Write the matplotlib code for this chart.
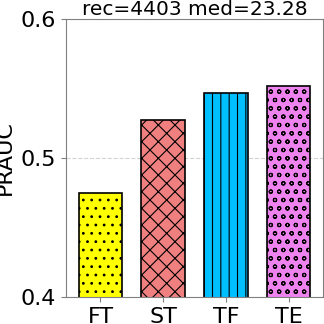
import matplotlib
matplotlib.use("Agg")
import matplotlib.pyplot as plt

# 数据
labels = ["FT", "ST", "TF", "TE"]
values = [0.475, 0.527, 0.547, 0.552]
colors = ["yellow", "lightcoral", "deepskyblue", "violet"]
hatches = ["..", "xx", "||", "oo"]
title = "rec=4403 med=23.28"

plt.rcParams["hatch.linewidth"] = 0.8

fig = plt.figure(figsize=(3.24, 3.24), dpi=100)
ax = fig.add_axes([66 / 324, 27 / 324, 257 / 324, 278 / 324])

x = range(len(labels))
bars = ax.bar(x, values, width=0.7, color=colors, edgecolor="black", linewidth=1.2)
for b, h in zip(bars, hatches):
    b.set_hatch(h)

ax.set_ylim(0.4, 0.6)
ax.set_xlim(-0.55, 3.55)
ax.set_yticks([0.4, 0.5, 0.6])
ax.set_yticklabels(["0.4", "0.5", "0.6"])
ax.set_xticks(list(x))
ax.set_xticklabels(labels)
ax.tick_params(labelsize=16, color="grey")
ax.set_ylabel("PRAUC", fontsize=16)
ax.set_title(title, fontsize=14.5, pad=2)
ax.yaxis.grid(True, linestyle="--", color="lightgrey", linewidth=0.8)
ax.set_axisbelow(True)
for s in ax.spines.values():
    s.set_color("grey")

plt.savefig("out.png", dpi=100)
